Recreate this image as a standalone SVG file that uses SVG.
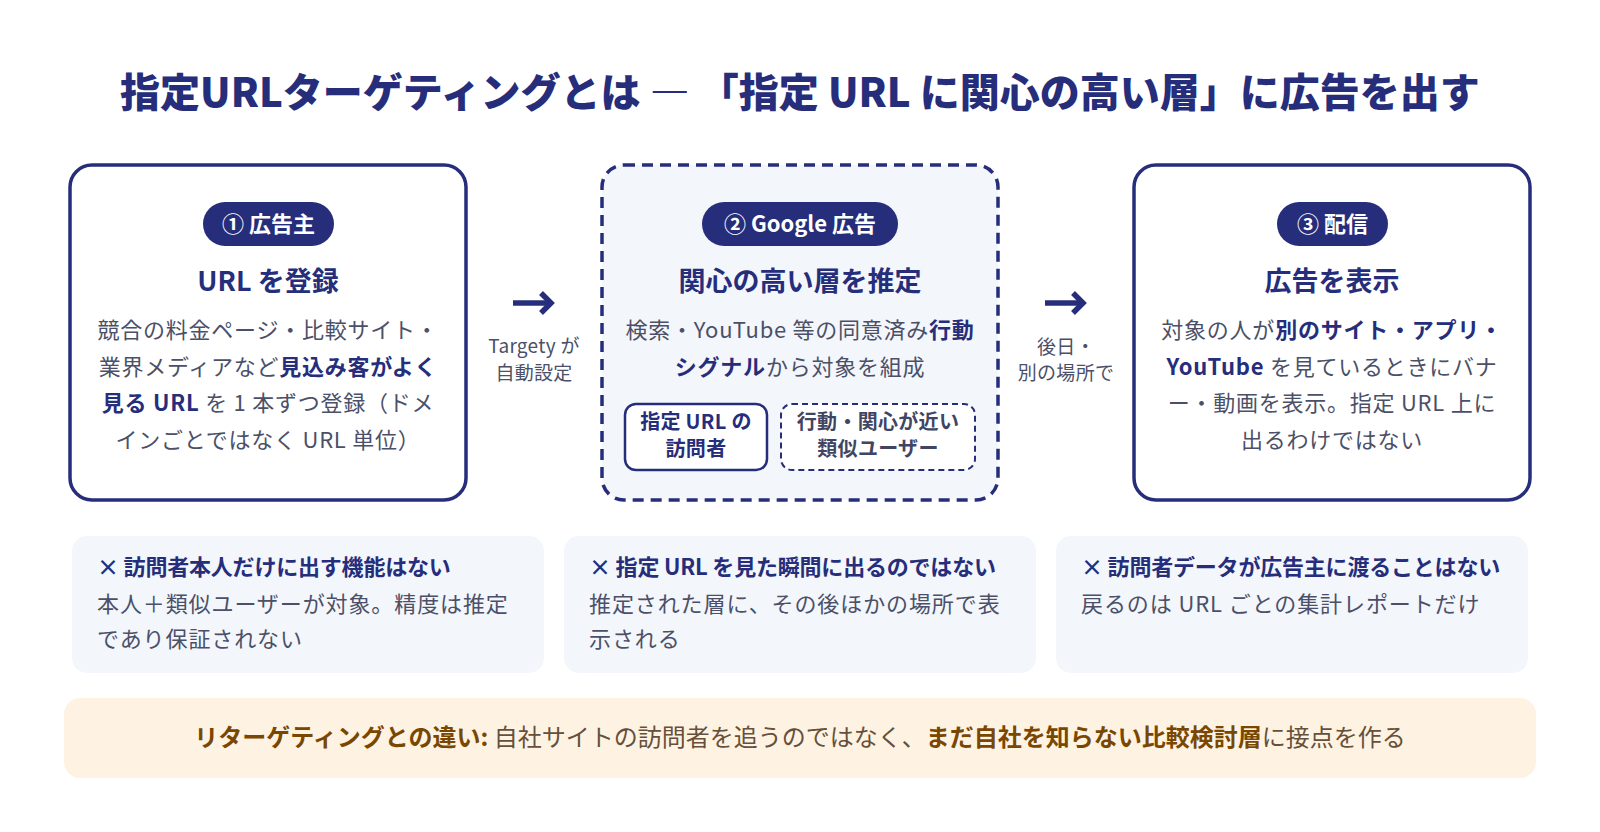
<svg xmlns="http://www.w3.org/2000/svg" width="1600" height="832" viewBox="0 0 1600 832">
<style>
text{font-family:"Noto Sans CJK JP","Noto Sans",sans-serif}
.title{font-size:40px;font-weight:900;fill:#262e7b}
.box{fill:#fff;stroke:#262e7b;stroke-width:3.5}
.boxd{fill:#f3f6fb;stroke:#262e7b;stroke-width:3.5;stroke-dasharray:11 7}
.pill{fill:#262e7b}
.pt{font-size:22px;font-weight:700;fill:#fff}
.h{font-size:27px;font-weight:700;fill:#262e7b}
.b{font-size:22px;fill:#4b5068;letter-spacing:0.75px}
.s{font-weight:700;fill:#262e7b}
.sub{fill:#fff;stroke:#262e7b;stroke-width:2.5}
.subd{fill:#fff;stroke:#262e7b;stroke-width:2;stroke-dasharray:6 4}
.st{font-size:20px;font-weight:700;fill:#262e7b;letter-spacing:0.3px}
.std{font-size:20px;font-weight:700;fill:#3f4562;letter-spacing:0.3px}
.lbl{font-size:19px;fill:#4b5068;letter-spacing:0.3px}
.arr{fill:none;stroke:#262e7b;stroke-width:5.5}
.note{fill:#f3f6fb}
.nt{font-size:22px;font-weight:700;fill:#262e7b;letter-spacing:-0.2px}
.nb{font-size:22px;fill:#4b5068;letter-spacing:0.9px}
.ban{fill:#fef3e3}
.bt{font-size:24px;fill:#66503a}
.bs{font-weight:700;fill:#7a4700}
</style>

<text class="title" x="800" y="107" text-anchor="middle">指定URLターゲティングとは ― 「指定 URL に関心の高い層」に広告を出す</text>

<g id="connectors">
  <path class="arr" d="M513 303 H550"/>
  <path class="arr" d="M541 293 L551 303 L541 313"/>
  <path class="arr" d="M1045 303 H1082"/>
  <path class="arr" d="M1073 293 L1083 303 L1073 313"/>
  <text class="lbl" x="534" y="353" text-anchor="middle">Targety が</text>
  <text class="lbl" x="534" y="380" text-anchor="middle">自動設定</text>
  <text class="lbl" x="1066" y="354" text-anchor="middle">後日・</text>
  <text class="lbl" x="1066" y="380" text-anchor="middle">別の場所で</text>
</g>

<g id="node-advertiser">
  <rect class="box" x="70" y="165" width="396" height="335" rx="22"/>
  <rect class="pill" x="203" y="202" width="131" height="44" rx="22"/>
  <text class="pt" x="268.5" y="232" text-anchor="middle">① 広告主</text>
  <text class="h" x="268" y="291" text-anchor="middle">URL を登録</text>
  <text class="b" x="268" y="338" text-anchor="middle">競合の料金ページ・比較サイト・</text>
  <text class="b" x="268" y="374.5" text-anchor="middle">業界メディアなど<tspan class="s">見込み客がよく</tspan></text>
  <text class="b" x="268" y="411" text-anchor="middle"><tspan class="s">見る URL</tspan> を 1 本ずつ登録（ドメ</text>
  <text class="b" x="268" y="447.5" text-anchor="middle">インごとではなく URL 単位）</text>
</g>

<g id="node-google">
  <rect class="boxd" x="602" y="165" width="396" height="335" rx="22"/>
  <rect class="pill" x="702" y="202" width="196" height="44" rx="22"/>
  <text class="pt" x="800" y="232" text-anchor="middle">② Google 広告</text>
  <text class="h" x="800" y="291" text-anchor="middle">関心の高い層を推定</text>
  <text class="b" x="800" y="338" text-anchor="middle">検索・YouTube 等の同意済み<tspan class="s">行動</tspan></text>
  <text class="b" x="800" y="374.5" text-anchor="middle"><tspan class="s">シグナル</tspan>から対象を組成</text>
  <g id="sub-visitors">
    <rect class="sub" x="625" y="404" width="142" height="66" rx="11"/>
    <text class="st" x="696" y="429" text-anchor="middle">指定 URL の</text>
    <text class="st" x="696" y="455.5" text-anchor="middle">訪問者</text>
  </g>
  <g id="sub-similar">
    <rect class="subd" x="781" y="404" width="194" height="66" rx="11"/>
    <text class="std" x="878" y="429" text-anchor="middle">行動・関心が近い</text>
    <text class="std" x="878" y="455.5" text-anchor="middle">類似ユーザー</text>
  </g>
</g>

<g id="node-delivery">
  <rect class="box" x="1134" y="165" width="396" height="335" rx="22"/>
  <rect class="pill" x="1277" y="202" width="111" height="44" rx="22"/>
  <text class="pt" x="1332.5" y="232" text-anchor="middle">③ 配信</text>
  <text class="h" x="1332" y="291" text-anchor="middle">広告を表示</text>
  <text class="b" x="1332" y="338" text-anchor="middle">対象の人が<tspan class="s">別のサイト・アプリ・</tspan></text>
  <text class="b" x="1332" y="374.5" text-anchor="middle"><tspan class="s">YouTube</tspan> を見ているときにバナ</text>
  <text class="b" x="1332" y="411" text-anchor="middle">ー・動画を表示。指定 URL 上に</text>
  <text class="b" x="1332" y="447.5" text-anchor="middle">出るわけではない</text>
</g>

<g id="note-1">
  <rect class="note" x="72" y="536" width="472" height="137" rx="15"/>
  <text class="nt" x="97" y="575">× 訪問者本人だけに出す機能はない</text>
  <text class="nb" x="97" y="612">本人＋類似ユーザーが対象。精度は推定</text>
  <text class="nb" x="97" y="647">であり保証されない</text>
</g>
<g id="note-2">
  <rect class="note" x="564" y="536" width="472" height="137" rx="15"/>
  <text class="nt" x="589" y="575">× 指定 URL を見た瞬間に出るのではない</text>
  <text class="nb" x="589" y="612">推定された層に、その後ほかの場所で表</text>
  <text class="nb" x="589" y="647">示される</text>
</g>
<g id="note-3">
  <rect class="note" x="1056" y="536" width="472" height="137" rx="15"/>
  <text class="nt" x="1081" y="575">× 訪問者データが広告主に渡ることはない</text>
  <text class="nb" x="1081" y="612">戻るのは URL ごとの集計レポートだけ</text>
</g>

<g id="banner">
  <rect class="ban" x="64" y="698" width="1472" height="80" rx="16"/>
  <text class="bt" x="800" y="746" text-anchor="middle"><tspan class="bs">リターゲティングとの違い:</tspan> 自社サイトの訪問者を追うのではなく、<tspan class="bs">まだ自社を知らない比較検討層</tspan>に接点を作る</text>
</g>
</svg>
